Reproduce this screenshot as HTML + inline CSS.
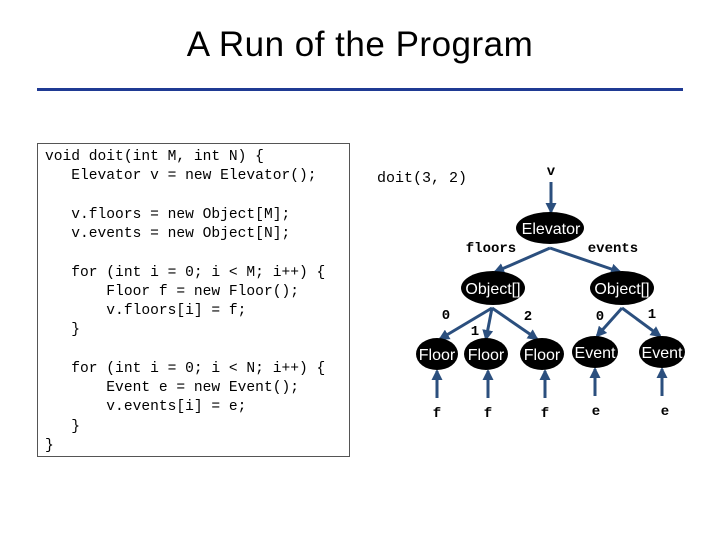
<!DOCTYPE html>
<html><head><style>
body{margin:0;width:720px;height:540px;background:#fff;position:relative;overflow:hidden;font-family:"Liberation Sans",sans-serif}
.t{position:absolute;left:0;width:720px;top:25px;text-align:center;font-size:35px;color:#000;letter-spacing:0.5px}
.hr{position:absolute;left:37px;top:88px;width:646px;height:3px;background:#1f3a93}
.code{position:absolute;left:37px;top:143px;width:311px;height:312px;border:1px solid #555}
pre{position:absolute;left:45px;top:148px;margin:0;font-family:"Liberation Mono",monospace;font-size:14.6px;line-height:19.27px;color:#000}
</style></head><body>
<div class="t">A Run of the Program</div>
<div class="hr"></div>
<div class="code"></div>
<pre>void doit(int M, int N) {
   Elevator v = new Elevator();

   v.floors = new Object[M];
   v.events = new Object[N];

   for (int i = 0; i &lt; M; i++) {
       Floor f = new Floor();
       v.floors[i] = f;
   }

   for (int i = 0; i &lt; N; i++) {
       Event e = new Event();
       v.events[i] = e;
   }
}</pre>
<svg width="720" height="540" style="position:absolute;left:0;top:0">
<defs><marker id="a" markerWidth="11" markerHeight="11" refX="9" refY="5.5" orient="auto" markerUnits="userSpaceOnUse"><path d="M0,0 L11,5.5 L0,11 z" fill="#2b4f7e"/></marker></defs>
<g font-family="Liberation Mono,monospace" font-size="15" fill="#000">
<text x="377" y="182">doit(3, 2)</text>
</g>
<g font-family="Liberation Mono,monospace" font-size="14" font-weight="bold" fill="#000" text-anchor="middle">
<text x="551" y="175">v</text>
<text x="491" y="252">floors</text>
<text x="613" y="252">events</text>
<text x="446" y="319">0</text><text x="475" y="335">1</text><text x="528" y="320">2</text>
<text x="600" y="320">0</text><text x="652" y="318">1</text>
<text x="437" y="417">f</text><text x="488" y="417">f</text><text x="545" y="417">f</text>
<text x="596" y="415">e</text><text x="665" y="415">e</text>
</g>
<g stroke="#2b4f7e" stroke-width="3" marker-end="url(#a)">
<line x1="551" y1="182" x2="551" y2="212"/>
<line x1="550" y1="248" x2="495" y2="272"/>
<line x1="550" y1="248" x2="620" y2="272"/>
<line x1="492" y1="308" x2="440" y2="339"/>
<line x1="492" y1="308" x2="486" y2="339"/>
<line x1="492" y1="308" x2="537" y2="339"/>
<line x1="622" y1="308" x2="597" y2="336"/>
<line x1="622" y1="308" x2="660" y2="336"/>
<line x1="437" y1="398" x2="437" y2="371"/>
<line x1="488" y1="398" x2="488" y2="371"/>
<line x1="545" y1="398" x2="545" y2="371"/>
<line x1="595" y1="396" x2="595" y2="369"/>
<line x1="662" y1="396" x2="662" y2="369"/>
</g>
<g fill="#000">
<ellipse cx="550" cy="228" rx="34" ry="16"/>
<ellipse cx="493" cy="288" rx="32" ry="17"/>
<ellipse cx="622" cy="288" rx="32" ry="17"/>
<ellipse cx="437" cy="354" rx="21" ry="16"/>
<ellipse cx="486" cy="354" rx="22" ry="16"/>
<ellipse cx="542" cy="354" rx="22" ry="16"/>
<ellipse cx="595" cy="352" rx="23" ry="16"/>
<ellipse cx="662" cy="352" rx="23" ry="16"/>
</g>
<g font-family="Liberation Sans,sans-serif" font-size="16" fill="#fff" text-anchor="middle">
<text x="551" y="234">Elevator</text>
<text x="493" y="294">Object[]</text>
<text x="622" y="294">Object[]</text>
<text x="437" y="360">Floor</text>
<text x="486" y="360">Floor</text>
<text x="542" y="360">Floor</text>
<text x="595" y="358">Event</text>
<text x="662" y="358">Event</text>
</g>
</svg>
</body></html>
